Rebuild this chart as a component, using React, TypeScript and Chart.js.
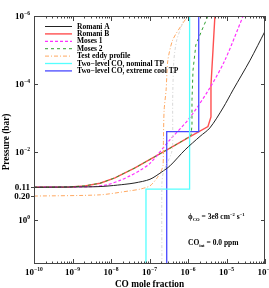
import React, { useEffect, useRef } from "react";
import { Chart, registerables } from "chart.js";

Chart.register(...registerables);

const FONT = '"Liberation Serif", "Times New Roman", serif';

// Axis ranges
const X_MIN = 1e-10;
const X_MAX = 1e-4;
const P_MIN = 1e-6;
const P_MAX = 20;

// Tick positions / labels
const xDecades = [-10, -9, -8, -7, -6, -5, -4];
const yMajorExps = [-6, -4, -2, 0];
const ySpecialTicks = [0.11, 0.2];
const ySpecialLabels = ["0.11", "0.20"];

// Series (CO mole fraction, pressure in bar)
const romaniA_x = [1e-10, 2.85e-9, 5.2e-9, 9.4e-9, 2.3e-8, 4.2e-8, 1.03e-7, 2.1e-7, 3.4e-7, 8.4e-7, 2.05e-6, 3.7e-6, 8.1e-6, 1.48e-5, 4.1e-5, 1e-4];
const romaniA_p = [0.11, 0.107, 0.105, 0.1, 0.09, 0.082, 0.064, 0.0387, 0.0258, 8.7e-3, 3.5e-3, 1.97e-3, 5.1e-4, 1.5e-4, 2e-5, 2.8e-6];

const romaniB_x = [1e-10, 8.6e-10, 2.1e-9, 5.2e-9, 1.27e-8, 2.3e-8, 4.2e-8, 1.03e-7, 3.4e-7, 1.1e-6, 3.3e-6, 3.95e-6, 3.95e-6, 4.46e-6, 5.0e-6];
const romaniB_p = [0.11, 0.108, 0.1, 0.084, 0.058, 0.0415, 0.0296, 0.0167, 7.8e-3, 3.6e-3, 1.8e-3, 9.3e-4, 1.07e-4, 1e-5, 1e-6];

const moses1_x = [1e-10, 2.85e-9, 7.9e-9, 1.71e-8, 3.1e-8, 5.7e-8, 1.03e-7, 3.4e-7, 1.1e-6, 3.7e-6, 9.1e-6, 2.7e-5];
const moses1_p = [0.11, 0.106, 0.093, 0.069, 0.051, 0.035, 0.0218, 4.4e-3, 1e-3, 1.3e-4, 2e-5, 1e-6];

const moses2_x = [1e-10, 8.6e-10, 2.1e-9, 5.2e-9, 1.27e-8, 2.3e-8, 4.2e-8, 1.03e-7, 3.4e-7, 8.4e-7, 1.2e-6, 1.27e-6, 1.27e-6, 1.35e-6, 1.6e-6, 2.3e-6, 3.3e-6];
const moses2_p = [0.11, 0.108, 0.1, 0.084, 0.058, 0.0415, 0.0296, 0.0167, 7.8e-3, 4.3e-3, 3.2e-3, 1.6e-3, 2.9e-4, 3.9e-5, 7.1e-6, 2.6e-6, 1e-6];

const eddy_x = [1e-10, 5.2e-9, 3.1e-8, 5.7e-8, 1.03e-7, 1.55e-7, 2.0e-7, 2.25e-7, 2.3e-7, 2.4e-7, 2.7e-7, 3.0e-7, 4.0e-7, 6.9e-7, 1e-6];
const eddy_p = [0.2, 0.184, 0.14, 0.125, 0.1, 0.06, 0.037, 0.025, 4.4e-3, 5.8e-4, 1.5e-4, 2e-5, 5.1e-6, 1.8e-6, 1e-6];

const grey_x = [2.1e-7, 2.1e-7, 2.3e-7, 2.9e-7, 3.7e-7, 4.0e-7, 4.0e-7, 4.3e-7, 5.1e-7, 7.4e-7, 8.0e-7];
const grey_p = [20, 0.085, 0.0387, 0.021, 0.011, 6.2e-3, 2.9e-4, 2e-5, 5.1e-6, 1.5e-6, 1e-6];

const nominal_x = [1.1e-6, 1.1e-6, 8.1e-8, 8.1e-8];
const nominal_p = [1e-6, 0.125, 0.125, 20];

const cool_x = [1.9e-6, 1.9e-6, 2.8e-7, 2.8e-7];
const cool_p = [1e-6, 2.53e-3, 2.53e-3, 20];

const labels = [
  "Romani A",
  "Romani B",
  "Moses 1",
  "Moses 2",
  "Test eddy profile",
  "Two\u2212level CO, nominal TP",
  "Two\u2212level CO, extreme cool TP",
];

function pts(xs: number[], ps: number[]) {
  return xs.map((x, i) => ({ x, y: ps[i] }));
}

type Seg = { t: string; s?: number; dy?: number };

function drawRich(ctx: CanvasRenderingContext2D, segs: Seg[], x: number, y: number, size: number, align: "left" | "right" | "center") {
  let total = 0;
  const widths: number[] = [];
  for (const sg of segs) {
    ctx.font = `bold ${size * (sg.s ?? 1)}px ${FONT}`;
    const w = ctx.measureText(sg.t).width;
    widths.push(w);
    total += w;
  }
  let cx = align === "right" ? x - total : align === "center" ? x - total / 2 : x;
  ctx.textAlign = "left";
  ctx.textBaseline = "alphabetic";
  segs.forEach((sg, i) => {
    ctx.font = `bold ${size * (sg.s ?? 1)}px ${FONT}`;
    ctx.fillText(sg.t, cx, y + (sg.dy ?? 0) * size);
    cx += widths[i];
  });
}

const decoPlugin = {
  id: "deco",
  afterDatasetsDraw(chart: any) {
    const { ctx, chartArea } = chart;
    const { left, right, top, bottom } = chartArea;
    const xs = chart.scales.x;
    const ys = chart.scales.y;
    ctx.save();
    // frame
    ctx.strokeStyle = "#444";
    ctx.lineWidth = 1;
    ctx.strokeRect(left + 0.5, top + 0.5, right - left - 1, bottom - top - 1);

    // x ticks
    ctx.beginPath();
    for (const d of xDecades) {
      const px = Math.round(xs.getPixelForValue(Math.pow(10, d))) + 0.5;
      ctx.moveTo(px, bottom);
      ctx.lineTo(px, bottom - 5);
      ctx.moveTo(px, top);
      ctx.lineTo(px, top + 5);
      if (d < -4) {
        for (let k = 2; k <= 9; k++) {
          const mx = Math.round(xs.getPixelForValue(k * Math.pow(10, d))) + 0.5;
          ctx.moveTo(mx, bottom);
          ctx.lineTo(mx, bottom - 2.5);
          ctx.moveTo(mx, top);
          ctx.lineTo(mx, top + 2.5);
        }
      }
    }
    // y ticks
    for (const e of yMajorExps) {
      const py = Math.round(ys.getPixelForValue(Math.pow(10, e))) + 0.5;
      ctx.moveTo(left, py);
      ctx.lineTo(left + 4, py);
      ctx.moveTo(right, py);
      ctx.lineTo(right - 4, py);
    }
    for (const v of ySpecialTicks) {
      const py = Math.round(ys.getPixelForValue(v)) + 0.5;
      ctx.moveTo(left - 3, py);
      ctx.lineTo(left, py);
    }
    ctx.stroke();

    ctx.fillStyle = "#000";
    // y labels
    for (const e of yMajorExps) {
      const py = ys.getPixelForValue(Math.pow(10, e));
      drawRich(ctx, [{ t: "10" }, { t: e === 0 ? "0" : "\u2212" + Math.abs(e), s: 0.62, dy: -0.45 }], left - 4, py + 3, 9, "right");
    }
    ySpecialTicks.forEach((v, i) => {
      const py = ys.getPixelForValue(v);
      drawRich(ctx, [{ t: ySpecialLabels[i] }], left - 4, py + 3, 9, "right");
    });
    // x labels
    for (const d of xDecades) {
      const px = xs.getPixelForValue(Math.pow(10, d));
      drawRich(ctx, [{ t: "10" }, { t: "\u2212" + Math.abs(d), s: 0.62, dy: -0.45 }], px, bottom + 11, 9, "center");
    }
    // axis titles
    drawRich(ctx, [{ t: "CO mole fraction" }], (left + right) / 2, bottom + 23, 9.3, "center");
    ctx.save();
    ctx.translate(9, (top + bottom) / 2 + 2);
    ctx.rotate(-Math.PI / 2);
    drawRich(ctx, [{ t: "Pressure (bar)" }], 0, 0, 9.3, "center");
    ctx.restore();

    // legend
    chart.data.datasets.forEach((ds: any) => {
      if (ds.legendRow === undefined) return;
      const ry = 26 + ds.legendRow * 7.4;
      ctx.save();
      ctx.strokeStyle = ds.borderColor;
      ctx.lineWidth = ds.borderWidth;
      ctx.setLineDash(ds.borderDash || []);
      ctx.beginPath();
      ctx.moveTo(45, ry + 0.5);
      ctx.lineTo(72, ry + 0.5);
      ctx.stroke();
      ctx.restore();
      drawRich(ctx, [{ t: ds.label }], 77, ry + 2.5, 7.5, "left");
    });

    // annotations
    drawRich(
      ctx,
      [
        { t: "\u03d5" },
        { t: "CO", s: 0.62, dy: 0.25 },
        { t: " = 3e8 cm" },
        { t: "\u22122", s: 0.62, dy: -0.45 },
        { t: " s" },
        { t: "\u22121", s: 0.62, dy: -0.45 },
      ],
      188,
      219,
      7.5,
      "left"
    );
    drawRich(
      ctx,
      [{ t: "CO" }, { t: "int", s: 0.62, dy: 0.25 }, { t: " = 0.0 ppm" }],
      188,
      245,
      7.5,
      "left"
    );
    ctx.restore();
  },
};

export default function App() {
  const ref = useRef<HTMLCanvasElement>(null);
  useEffect(() => {
    if (!ref.current) return;
    const chart = new Chart(ref.current, {
      type: "scatter",
      data: {
        datasets: [
          { label: "", data: pts(grey_x, grey_p), borderColor: "#d8d8d8", borderWidth: 1, borderDash: [3, 2, 1, 2], tension: 0.25 },
          { label: labels[0], legendRow: 0, data: pts(romaniA_x, romaniA_p), borderColor: "#222222", borderWidth: 1, tension: 0.3 },
          { label: labels[4], legendRow: 4, data: pts(eddy_x, eddy_p), borderColor: "#ffa860", borderWidth: 1, borderDash: [4, 2, 1, 2], tension: 0.25 },
          { label: labels[5], legendRow: 5, data: pts(nominal_x, nominal_p), borderColor: "#55ffff", borderWidth: 1.3, tension: 0 },
          { label: labels[6], legendRow: 6, data: pts(cool_x, cool_p), borderColor: "#4848ff", borderWidth: 1.3, tension: 0 },
          { label: labels[3], legendRow: 3, data: pts(moses2_x, moses2_p), borderColor: "#30a030", borderWidth: 1, borderDash: [3, 3], tension: 0 },
          { label: labels[2], legendRow: 2, data: pts(moses1_x, moses1_p), borderColor: "#ff30ff", borderWidth: 1.2, borderDash: [3, 2], tension: 0.3 },
          { label: labels[1], legendRow: 1, data: pts(romaniB_x, romaniB_p), borderColor: "#ff5050", borderWidth: 1.4, tension: 0 },
        ].map((d: any) => ({ ...d, showLine: true, pointRadius: 0, pointHoverRadius: 0, fill: false })),
      },
      options: {
        animation: false,
        responsive: false,
        devicePixelRatio: 1,
        layout: { padding: { top: 16, right: 4, left: 0, bottom: 0 } },
        plugins: { legend: { display: false }, tooltip: { enabled: false } },
        events: [],
        scales: {
          x: {
            type: "logarithmic",
            min: X_MIN,
            max: X_MAX,
            ticks: { display: false },
            grid: { display: false, drawTicks: false },
            border: { display: false },
            afterFit: (s: any) => {
              s.height = 24;
            },
          },
          y: {
            type: "logarithmic",
            reverse: true,
            min: P_MIN,
            max: P_MAX,
            ticks: { display: false },
            grid: { display: false, drawTicks: false },
            border: { display: false },
            afterFit: (s: any) => {
              s.width = 34;
            },
          },
        },
      } as any,
      plugins: [decoPlugin],
    });
    return () => chart.destroy();
  }, []);
  return (
    <div style={{ position: "absolute", left: 0, top: 0, width: 269, height: 288, background: "#fff" }}>
      <canvas ref={ref} width={269} height={288} style={{ display: "block" }} />
    </div>
  );
}
